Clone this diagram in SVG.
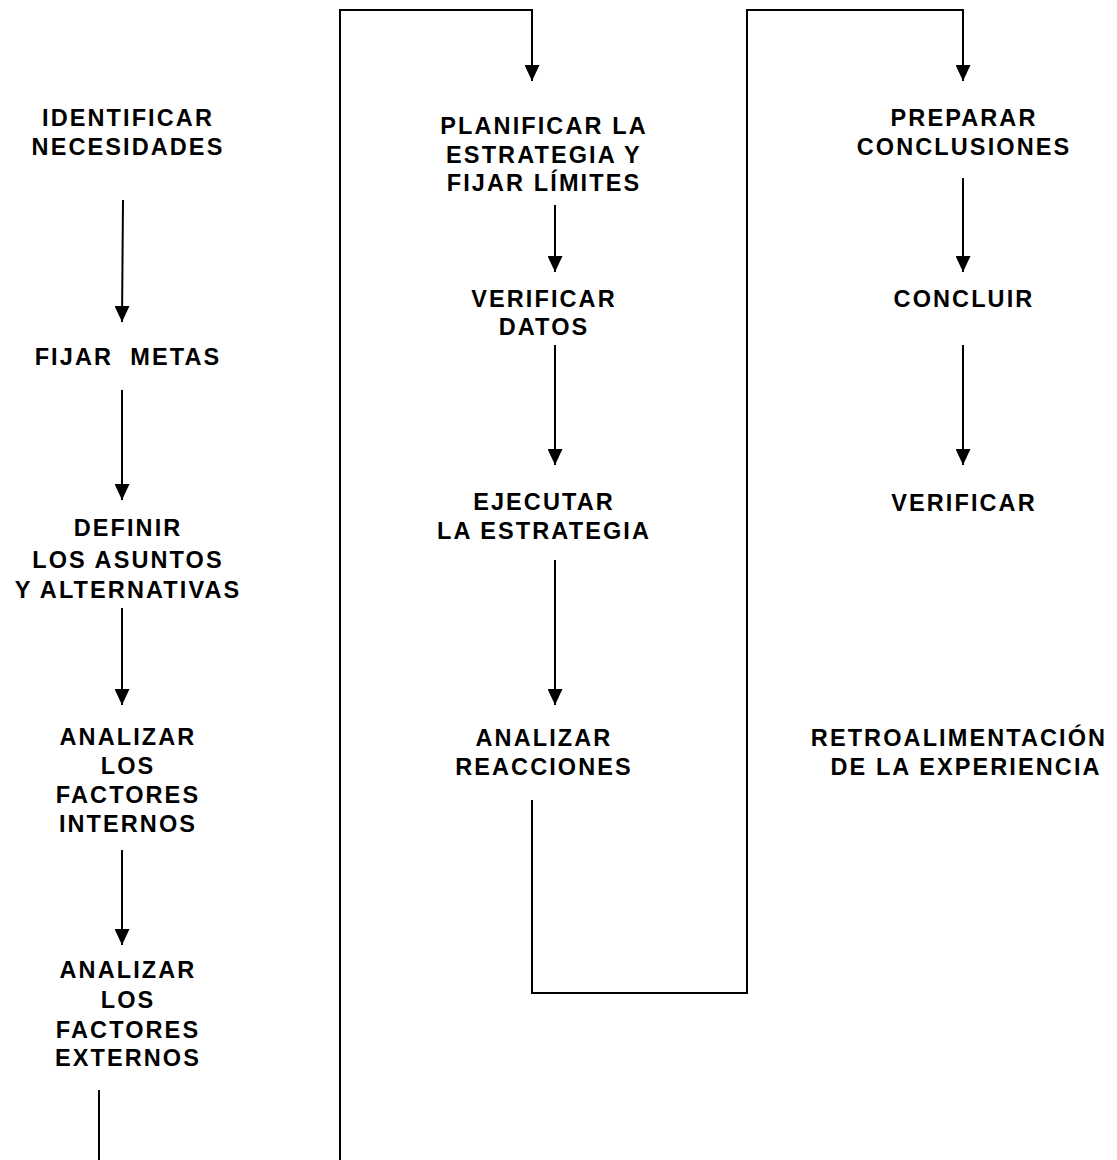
<svg xmlns="http://www.w3.org/2000/svg" width="1117" height="1160" viewBox="0 0 1117 1160">
<style>
text{font-family:"Liberation Sans",Arial,sans-serif;font-weight:bold;font-size:23.5px;letter-spacing:2.1px;text-anchor:middle;fill:#000}
.c{fill:none;stroke:#000;stroke-width:2}
</style>
<defs>
<marker id="ad" viewBox="0 0 15 16" refX="7.5" refY="16" markerWidth="15" markerHeight="16" markerUnits="userSpaceOnUse" orient="0">
<path d="M0,0 L15,0 L7.5,16 Z" fill="#000"/>
</marker>
</defs>
<rect width="1117" height="1160" fill="#fff"/>
<g id="connectors">
<line class="c" x1="123" y1="200" x2="122" y2="322" marker-end="url(#ad)"/>
<line class="c" x1="122" y1="390" x2="122" y2="500" marker-end="url(#ad)"/>
<line class="c" x1="122" y1="608" x2="122" y2="705" marker-end="url(#ad)"/>
<line class="c" x1="122" y1="850" x2="122" y2="945" marker-end="url(#ad)"/>
<line class="c" x1="99" y1="1090" x2="99" y2="1160"/>
<polyline class="c" points="340,1160 340,10 532,10 532,81" marker-end="url(#ad)"/>
<line class="c" x1="555" y1="205" x2="555" y2="272" marker-end="url(#ad)"/>
<line class="c" x1="555" y1="345" x2="555" y2="465" marker-end="url(#ad)"/>
<line class="c" x1="555" y1="560" x2="555" y2="705" marker-end="url(#ad)"/>
<polyline class="c" points="532,800 532,993 747,993 747,10 963,10 963,81" marker-end="url(#ad)"/>
<line class="c" x1="963" y1="178" x2="963" y2="272" marker-end="url(#ad)"/>
<line class="c" x1="963" y1="345" x2="963" y2="465" marker-end="url(#ad)"/>
</g>
<g id="n1"><text x="128" y="126">IDENTIFICAR</text><text x="128" y="155">NECESIDADES</text></g>
<g id="n2"><text x="128" y="365" xml:space="preserve">FIJAR  METAS</text></g>
<g id="n3"><text x="128" y="536">DEFINIR</text><text x="128" y="568">LOS ASUNTOS</text><text x="128" y="598">Y ALTERNATIVAS</text></g>
<g id="n4"><text x="128" y="745">ANALIZAR</text><text x="128" y="774">LOS</text><text x="128" y="803">FACTORES</text><text x="128" y="832">INTERNOS</text></g>
<g id="n5"><text x="128" y="978">ANALIZAR</text><text x="128" y="1008">LOS</text><text x="128" y="1038">FACTORES</text><text x="128" y="1066">EXTERNOS</text></g>
<g id="n6"><text x="544" y="134">PLANIFICAR LA</text><text x="544" y="163">ESTRATEGIA Y</text><text x="544" y="191">FIJAR LÍMITES</text></g>
<g id="n7"><text x="544" y="307">VERIFICAR</text><text x="544" y="335">DATOS</text></g>
<g id="n8"><text x="544" y="510">EJECUTAR</text><text x="544" y="539">LA ESTRATEGIA</text></g>
<g id="n9"><text x="544" y="746">ANALIZAR</text><text x="544" y="775">REACCIONES</text></g>
<g id="n10"><text x="964" y="126">PREPARAR</text><text x="964" y="155">CONCLUSIONES</text></g>
<g id="n11"><text x="964" y="307">CONCLUIR</text></g>
<g id="n12"><text x="964" y="511">VERIFICAR</text></g>
<g id="n13"><text x="959" y="746">RETROALIMENTACIÓN</text><text x="966" y="775">DE LA EXPERIENCIA</text></g>
</svg>
